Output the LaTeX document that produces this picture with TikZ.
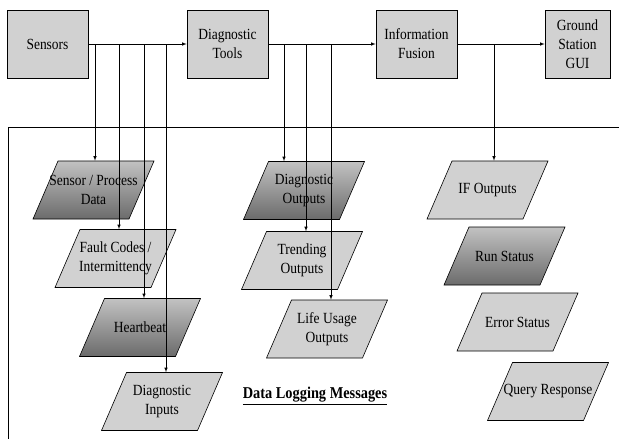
\documentclass[tikz,border=0pt]{standalone}
\usepackage{fontspec}
\setmainfont[FakeStretch=0.87]{Liberation Serif}
\tikzset{
  blockbox/.style={draw,fill=black!18,minimum width=81pt,minimum height=68pt,
    inner sep=1pt,align=center,font=\fontsize{15.5}{19}\selectfont},
  datatext/.style={minimum width=96pt,minimum height=58pt,inner sep=0pt,
    align=center,font=\fontsize{15.5}{19}\selectfont},
  datalight/.style={draw,fill=black!18},
  datadark/.style={draw,top color=black!24,bottom color=black!58},
}
% parallelogram message: name, x, y, look, text
\newcommand\datamsg[5]{%
  \path[#4] (#2-60.5,#3+29) -- (#2+35.5,#3+29) -- (#2+60.5,#3-29)
    -- (#2-35.5,#3-29) -- cycle;
  \node[datatext] (#1) at (#2,#3) {#5};}
\begin{document}
\begin{tikzpicture}[x=1pt,y=-1pt,>=latex,line width=0.6pt]
    \useasboundingbox (0,0) rectangle (619,439);
    % frame of the logging area
    \draw (8,439) |- (619,127);
    % top row
    \node[blockbox] (sensors) at (47.5,44) {Sensors};
    \node[blockbox] (diag) at (227.5,44) {Diagnostic\\Tools};
    \node[blockbox] (fusion) at (416.5,44) {Information\\Fusion};
    \node[blockbox,minimum width=65pt] (gui) at (577.5,44) {Ground\\Station\\GUI};
    \draw[->] (sensors) -- (diag);
    \draw[->] (diag) -- (fusion);
    \draw[->] (fusion) -- (gui);
    % logged messages
    \datamsg{spd}{93.5}{190}{datadark}{Sensor / Process\\Data}
    \datamsg{fault}{115.5}{258.5}{datalight}{Fault Codes /\\Intermittency}
    \datamsg{heart}{140}{327.5}{datadark}{Heartbeat}
    \datamsg{dinputs}{162}{401.5}{datalight}{Diagnostic\\Inputs}
    \datamsg{dout}{304}{190.5}{datadark}{Diagnostic\\Outputs}
    \datamsg{trend}{302}{260.5}{datalight}{Trending\\Outputs}
    \datamsg{life}{327}{329}{datalight}{Life Usage\\Outputs}
    \datamsg{ifout}{487.5}{190}{datalight}{IF Outputs}
    \datamsg{run}{504.5}{256}{datadark}{Run Status}
    \datamsg{err}{517.5}{322}{datalight}{Error Status}
    \datamsg{query}{548}{391.5}{datalight}{Query Response}
    \node[font=\fontsize{16.5}{19}\selectfont\bfseries] (title) at (315,396)
      {\underline{Data Logging Messages}};
    % taps off the main line
    \coordinate (s1) at (95,44);
    \coordinate (s2) at (119,44);
    \coordinate (s3) at (144,44);
    \coordinate (s4) at (166,44);
    \coordinate (d1) at (284,44);
    \coordinate (d2) at (306,44);
    \coordinate (d3) at (331,44);
    \coordinate (f1) at (494,44);
    \draw[->] (s1) -- (s1 |- spd.north);
    \draw[->] (s2) -- (s2 |- fault.north);
    \draw[->] (s3) -- (s3 |- heart.north);
    \draw[->] (s4) -- (s4 |- dinputs.north);
    \draw[->] (d1) -- (d1 |- dout.north);
    \draw[->] (d2) -- (d2 |- trend.north);
    \draw[->] (d3) -- (d3 |- life.north);
    \draw[->] (f1) -- (f1 |- ifout.north);
\end{tikzpicture}
\end{document}
